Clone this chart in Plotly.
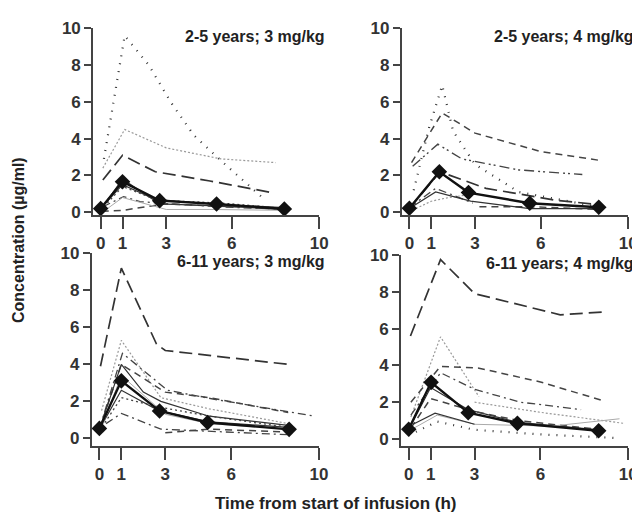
import plotly.graph_objects as go

# ---------------- data ----------------
TICKS_X = [0, 1, 3, 6, 10]
TICKS_Y = [0, 2, 4, 6, 8, 10]
PANEL_TITLES = ["2-5 years; 3 mg/kg", "2-5 years; 4 mg/kg",
                "6-11 years; 3 mg/kg", "6-11 years; 4 mg/kg"]

# Panel A: 2-5 years; 3 mg/kg  (individual profiles)
A_T = [[0.15, 1.1, 2.2, 3.2, 4.25, 5.6, 7.4],
       [0.1, 1.1, 3.0, 5.5, 8.0],
       [0.1, 1.0, 2.5, 5.0, 7.9],
       [0.05, 1.0, 2.9, 5.3, 8.4],
       [0.0, 1.0, 2.7, 5.3, 8.4],
       [0.0, 1.0, 2.5, 5.0, 8.4],
       [0.1, 1.05, 1.8, 2.6, 5.4, 8.5],
       [0.0, 1.0, 2.6, 5.5, 8.5],
       [0.2, 1.0, 3.0, 5.0, 8.6]]
A_C = [[2.9, 9.6, 8.0, 6.0, 4.2, 2.7, 0.8],
       [2.4, 4.5, 3.5, 2.9, 2.7],
       [1.75, 3.1, 2.2, 1.7, 1.05],
       [0.05, 0.1, 0.45, 0.35, 0.2],
       [0.15, 1.8, 0.45, 0.35, 0.15],
       [0.2, 1.5, 0.7, 0.45, 0.25],
       [0.3, 0.85, 0.58, 0.5, 0.3, 0.15],
       [0.1, 1.4, 0.65, 0.5, 0.2],
       [0.1, 0.8, 0.15, 0.15, 0.1]]
A_S = ["sdot", "gdot", "ldash", "dash", "solid", "solid", "dashdot", "dot", "gsolid"]
A_MEAN_T = [0, 1.0, 2.7, 5.3, 8.4]
A_MEAN_C = [0.2, 1.66, 0.63, 0.45, 0.18]

# Panel B: 2-5 years; 4 mg/kg
B_T = [[0.1, 1.5, 3.0, 6.0, 8.8],
       [0.2, 0.9, 1.5, 2.0, 3.0, 5.0, 8.6],
       [0.15, 1.3, 2.4, 5.0, 7.9],
       [0.0, 1.4, 3.5, 6.7, 8.8],
       [0.0, 1.2, 2.9],
       [3.2, 5.5, 8.7],
       [0.3, 1.0, 1.8, 3.0],
       [0.0, 1.2, 2.8, 5.5, 8.6]]
B_C = [[2.7, 5.4, 4.3, 3.3, 2.8],
       [1.2, 4.6, 6.9, 4.4, 2.6, 1.1, 0.3],
       [2.5, 3.7, 2.9, 2.3, 2.05],
       [0.2, 2.2, 1.3, 0.65, 0.4],
       [0.25, 1.3, 0.5],
       [0.3, 0.3, 0.15],
       [0.2, 0.6, 0.8, 1.0],
       [0.2, 1.1, 0.6, 0.2, 0.2]]
B_S = ["dash", "sdot", "dashdotdot", "ldash", "dashdot", "dash", "gdot", "solid"]
B_MEAN_T = [0, 1.37, 2.7, 5.5, 8.65]
B_MEAN_C = [0.22, 2.2, 1.07, 0.49, 0.27]

# Panel C: 6-11 years; 3 mg/kg
C_T = [[0.05, 1.0, 2.6, 3.0, 8.6],
       [0.1, 1.0, 2.8, 5.0, 8.6],
       [0.0, 1.05, 3.1, 5.3, 9.8],
       [0.0, 1.0, 3.0, 5.0, 8.6],
       [0.0, 1.0, 2.0, 2.8, 5.0, 8.6],
       [0.3, 1.0, 2.8, 5.0, 8.6],
       [0.0, 1.0, 2.7, 5.0, 8.6],
       [0.0, 1.0, 2.7, 5.0, 8.6],
       [0.1, 1.0, 3.0, 5.0, 8.6],
       [3.0, 5.0, 8.6]]
C_C = [[3.9, 9.2, 5.1, 4.75, 4.0],
       [1.5, 5.3, 2.2, 1.6, 0.8],
       [0.5, 4.6, 2.6, 2.1, 1.2],
       [0.5, 4.0, 2.5, 2.2, 1.4],
       [0.5, 4.0, 2.5, 2.0, 1.2, 0.7],
       [0.8, 1.35, 0.5, 0.4, 0.2],
       [0.5, 2.6, 1.5, 0.9, 0.6],
       [0.4, 2.2, 1.7, 1.2, 0.6],
       [0.6, 3.4, 1.3, 0.8, 0.5],
       [0.3, 0.5, 0.35]]
C_S = ["ldash", "gdot", "dashdot", "dash", "solid", "dashdot", "solid", "dot", "gsolid", "dash"]
C_MEAN_T = [0, 1.0, 2.74, 4.93, 8.64]
C_MEAN_C = [0.54, 3.11, 1.48, 0.86, 0.49]

# Panel D: 6-11 years; 4 mg/kg
D_T = [[0.08, 1.45, 3.0, 6.9, 8.8],
       [0.1, 1.45, 3.2],
       [0.1, 1.45, 3.2, 6.0, 8.8],
       [0.1, 1.45, 3.0, 5.1, 7.85],
       [3.0, 6.0, 9.8],
       [0.0, 1.3, 3.0, 6.0, 9.5],
       [0.0, 1.0, 2.7, 5.0, 8.65],
       [0.1, 1.0, 3.0, 5.0, 8.8],
       [0.1, 1.3, 3.0, 6.5, 9.6],
       [0.2, 1.2, 3.0]]
D_C = [[5.6, 9.75, 7.9, 6.75, 6.9],
       [1.2, 5.55, 2.3],
       [2.0, 3.95, 3.85, 3.1, 2.1],
       [1.3, 3.6, 2.7, 2.0, 1.6],
       [2.0, 1.45, 0.85],
       [0.2, 0.95, 0.5, 0.25, 0.05],
       [0.5, 2.8, 1.6, 0.9, 0.5],
       [0.6, 2.2, 1.5, 1.0, 0.5],
       [0.5, 1.3, 0.8, 0.7, 1.1],
       [0.8, 1.4, 0.8]]
D_S = ["ldash", "gdot", "dash", "dashdot", "gdot", "sdot", "solid", "dash", "gsolid", "solid"]
D_MEAN_T = [0, 1.02, 2.71, 4.95, 8.65]
D_MEAN_C = [0.53, 3.08, 1.43, 0.85, 0.45]

# ---------------- styles ----------------
STYLES = {
    "sdot": dict(dash="1px,7px", width=2.2, color="#333333"),
    "gdot": dict(dash="2px,2px", width=1.2, color="#999999"),
    "dot": dict(dash="2px,3px", width=1.3, color="#444444"),
    "ldash": dict(dash="13px,6px", width=1.7, color="#333333"),
    "dash": dict(dash="7px,5px", width=1.5, color="#444444"),
    "dashdot": dict(dash="8px,4px,2px,4px", width=1.3, color="#444444"),
    "dashdotdot": dict(dash="10px,4px,2px,3px,2px,4px", width=1.4, color="#444444"),
    "solid": dict(dash="solid", width=1.2, color="#333333"),
    "gsolid": dict(dash="solid", width=1.0, color="#aaaaaa"),
}

FONT = "Liberation Sans, Arial, sans-serif"
OFF = 8                     # browser body margin
W, H = 640 - OFF, 520 - OFF

def px(v):
    return v - OFF

# panel geometry in window pixels: left/right of plot area, top (y=10), bottom axis line
PANELS = [
    dict(l=93, r=319.3, t=28.3, b=215, ymin=-0.15, xmin=-0.35),
    dict(l=401.7, r=628.3, t=28.3, b=215, ymin=-0.15, xmin=-0.35),
    dict(l=91.7, r=319, t=253.3, b=446, ymin=-0.41, xmin=-0.35),
    dict(l=401, r=628.3, t=255, b=446, ymin=-0.38, xmin=-0.35),
]

DATA = [(A_T, A_C, A_S, A_MEAN_T, A_MEAN_C),
        (B_T, B_C, B_S, B_MEAN_T, B_MEAN_C),
        (C_T, C_C, C_S, C_MEAN_T, C_MEAN_C),
        (D_T, D_C, D_S, D_MEAN_T, D_MEAN_C)]

fig = go.Figure()
layout = dict(width=W, height=H, margin=dict(l=0, r=0, t=0, b=0, autoexpand=False),
              paper_bgcolor="white", plot_bgcolor="white", showlegend=False,
              font=dict(family=FONT, color="#222222"))
annotations = []

for i, (p, (T, C, S, MT, MC)) in enumerate(zip(PANELS, DATA)):
    k = "" if i == 0 else str(i + 1)
    xa, ya = "x" + k, "y" + k
    for t, c, s in zip(T, C, S):
        st = STYLES[s]
        fig.add_trace(go.Scatter(x=t, y=c, mode="lines", xaxis=xa, yaxis=ya,
                                 line=dict(color=st["color"], width=st["width"], dash=st["dash"]),
                                 hoverinfo="skip"))
    fig.add_trace(go.Scatter(x=MT, y=MC, mode="lines+markers", xaxis=xa, yaxis=ya,
                             line=dict(color="#111111", width=2.4),
                             marker=dict(symbol="diamond", size=12, color="#111111"),
                             hoverinfo="skip"))
    axcommon = dict(showgrid=False, zeroline=False, showline=True, linecolor="#444444",
                    linewidth=1.6, ticks="outside", tickcolor="#444444", tickwidth=1.6,
                    automargin=False,
                    tickfont=dict(family=FONT, size=17, color="#333333", weight="bold"))
    layout["xaxis" + k] = dict(axcommon, domain=[px(p["l"]) / W, px(p["r"]) / W], anchor=ya,
                               range=[p["xmin"], 10], tickvals=TICKS_X, ticklen=12)
    layout["yaxis" + k] = dict(axcommon, domain=[1 - px(p["b"]) / H, 1 - px(p["t"]) / H],
                               anchor=xa, range=[p["ymin"], 10], tickvals=TICKS_Y, ticklen=7)
    annotations.append(dict(text="<b>" + PANEL_TITLES[i] + "</b>", xref="paper", yref="paper",
                            x=px(p["r"] + 8) / W, y=1 - px(p["t"] + 8.5) / H,
                            xanchor="right", yanchor="middle", showarrow=False,
                            font=dict(family=FONT, size=16, color="#222222")))

annotations.append(dict(text="<b>Concentration (µg/ml)</b>", xref="paper", yref="paper",
                        x=px(18) / W, y=1 - px(240) / H, textangle=-90, showarrow=False,
                        xanchor="center", yanchor="middle",
                        font=dict(family=FONT, size=16, color="#222222")))
annotations.append(dict(text="<b>Time from start of infusion (h)</b>", xref="paper", yref="paper",
                        x=px(335) / W, y=1 - px(503) / H, showarrow=False,
                        xanchor="center", yanchor="middle",
                        font=dict(family=FONT, size=17, color="#222222")))
layout["annotations"] = annotations
fig.update_layout(**layout)
fig.write_html("out.html")
